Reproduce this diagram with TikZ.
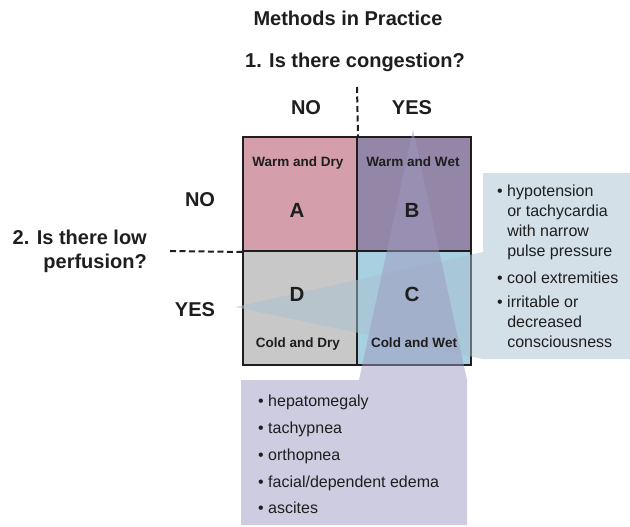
\documentclass[tikz,border=0pt]{standalone}
\usepackage{fontspec}
\setmainfont{Liberation Sans}
\definecolor{cA}{RGB}{212,158,170}
\definecolor{cB}{RGB}{148,134,166}
\definecolor{cC}{RGB}{168,208,224}
\definecolor{cD}{RGB}{200,200,200}
\definecolor{wR}{RGB}{169,193,207}
\definecolor{wB}{RGB}{157,153,193}
\definecolor{ink}{RGB}{30,30,30}
\tikzset{
  cell/.style={draw=ink, line width=2pt, minimum width=114pt, minimum height=114pt, inner sep=0pt},
  hdr/.style={font=\bfseries\fontsize{20}{24}\selectfont, text=ink, inner sep=0pt, anchor=base},
  celltxt/.style={font=\bfseries\fontsize{13.5}{16}\selectfont, text=ink, inner sep=0pt, anchor=base},
  bigletter/.style={font=\bfseries\fontsize{20.5}{24}\selectfont, text=ink, inner sep=0pt, anchor=base},
  bul/.style={font=\fontsize{16}{20}\selectfont, text=ink, align=left, inner sep=0pt, anchor=base west},
  dashline/.style={draw=ink, line width=2pt, dash pattern=on 6pt off 3.5pt},
  wedge/.style={fill opacity=0.5}
}
\newcommand{\bh}{\phantom{\textbullet\ }}
\begin{document}
\begin{tikzpicture}[x=1pt,y=-1pt]
\useasboundingbox (0,0) rectangle (630,527);
% cells
\node[cell, fill=cA] (A) at (300,194) {};
\node[cell, fill=cB] (B) at (414,194) {};
\node[cell, fill=cD] (D) at (300,308) {};
\node[cell, fill=cC] (C) at (414,308) {};
% callout shapes (semi-transparent)
\fill[wedge, wR] (235,307) -- (483,252) -- (483,173) -- (630,173) -- (630,359) -- (483,359) -- cycle;
\fill[wedge, wB] (241,380) -- (359,380) -- (413,130) -- (467,380) -- (467,525) -- (241,525) -- cycle;
% dashed lines
\coordinate (vtop) at (357,87);
\coordinate (hleft) at (170,251);
\draw[dashline] (vtop) -- (A.north east);
\draw[dashline] (hleft) -- (A.south west);
% headings
\node[hdr] (title) at (348,26) {Methods in Practice};
\node[hdr] (q1) at (355,68) {1. Is there congestion?};
\node[hdr] (no1) at (306,115) {NO};
\node[hdr] (yes1) at (412,115) {YES};
\node[hdr] (no2) at (200,206) {NO};
\node[hdr] (yes2) at (195,316) {YES};
\node[hdr, anchor=base east] (q2a) at (147,244) {2. Is there low};
\node[hdr, anchor=base east] (q2b) at (147,268) {perfusion?};
% cell texts
\node[celltxt] (tA) at (298,167) {Warm and Dry};
\node[celltxt] (tB) at (413,167) {Warm and Wet};
\node[celltxt] (tD) at (298,347) {Cold and Dry};
\node[celltxt] (tC) at (414,347) {Cold and Wet};
\node[bigletter] (lA) at (297,217) {A};
\node[bigletter] (lB) at (412,217) {B};
\node[bigletter] (lD) at (297,301) {D};
\node[bigletter] (lC) at (412,301) {C};
% right callout text (base = last line's baseline)
\node[bul] (r1) at (497,256) {\textbullet\ hypotension\\\bh or tachycardia\\\bh with narrow\\\bh pulse pressure};
\node[bul] (r2) at (497,283) {\textbullet\ cool extremities};
\node[bul] (r3) at (497,347) {\textbullet\ irritable or\\\bh decreased\\\bh consciousness};
% bottom callout text
\node[bul] (b1) at (258,406) {\textbullet\ hepatomegaly};
\node[bul] (b2) at (258,433) {\textbullet\ tachypnea};
\node[bul] (b3) at (258,460) {\textbullet\ orthopnea};
\node[bul] (b4) at (258,487) {\textbullet\ facial/dependent edema};
\node[bul] (b5) at (258,513) {\textbullet\ ascites};
\end{tikzpicture}
\end{document}
